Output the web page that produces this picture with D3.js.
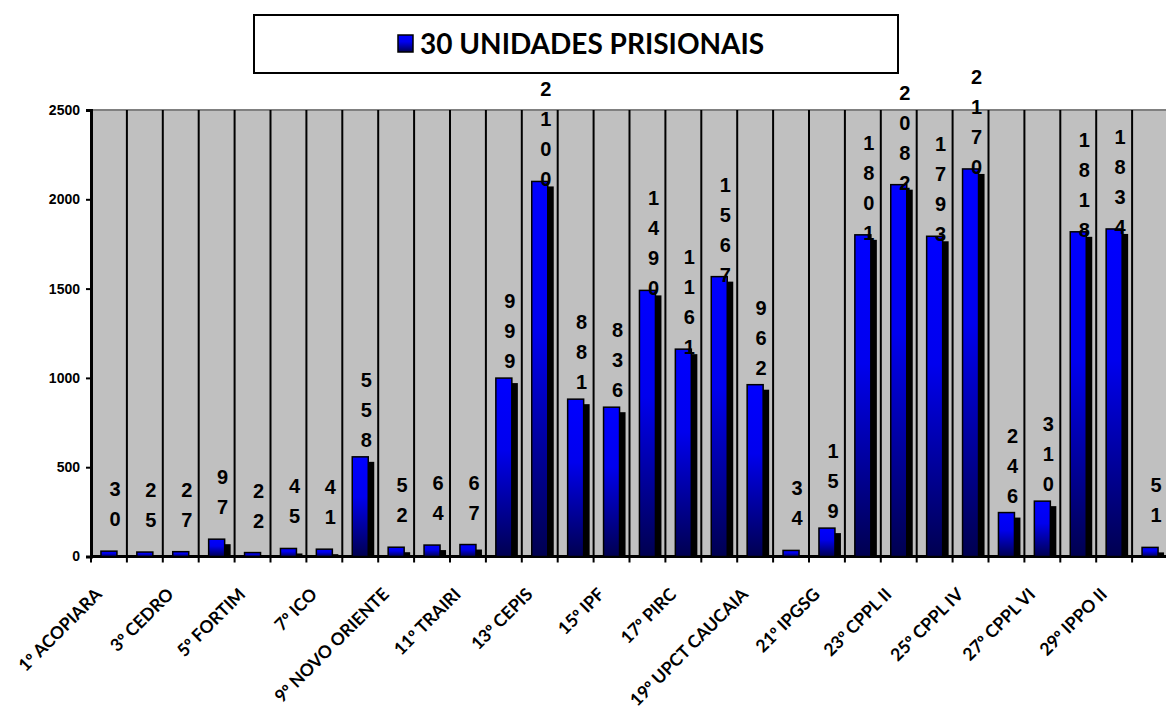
<!DOCTYPE html>
<html>
<head>
<meta charset="utf-8">
<script src="https://cdn.jsdelivr.net/npm/d3@7"></script>
<style>
  body { margin:0; background:#fff; }
  svg { display:block; }
</style>
</head>
<body>
<svg id="chart" width="1166" height="711"></svg>
<script>
var categories = ['1º','2º','3º','4º','5º','6º','7º','8º','9º','10º',
  '11º','12º','13º','14º','15º','16º','17º','18º','19º','20º',
  '21º','22º','23º','24º','25º','26º','27º','28º','29º','30º'];
var presos = [30, 25, 27, 97, 22, 45, 41, 558, 52, 64,
  67, 999, 2100, 881, 836, 1490, 1161, 1567, 962, 34,
  159, 1801, 2082, 1793, 2170, 246, 310, 1818, 1834, 51];
// only every second category gets a label on the axis
var tickLabels = ['1º ACOPIARA','3º CEDRO','5º FORTIM','7º ICO','9º NOVO ORIENTE',
  '11º TRAIRI','13º CEPIS','15º IPF','17º PIRC','19º UPCT CAUCAIA',
  '21º IPGSG','23º CPPL II','25º CPPL IV','27º CPPL VI','29º IPPO II'];
var yTicks = [0, 500, 1000, 1500, 2000, 2500];
var serieName = '30 UNIDADES PRISIONAIS';

var svg = d3.select('#chart');
var plotL = 91, plotR = 1168, plotT = 110, plotB = 556.5;

var x = d3.scaleBand().domain(categories).range([plotL, plotR]).padding(0);
var y = d3.scaleLinear().domain([0, 2500]).range([plotB, plotT]);

var defs = svg.append('defs');
var grad = defs.append('linearGradient').attr('id','barGrad')
  .attr('x1',0).attr('y1',0).attr('x2',0).attr('y2',1);
grad.append('stop').attr('offset','0').attr('stop-color','#0000ff');
grad.append('stop').attr('offset','0.4').attr('stop-color','#0000ee');
grad.append('stop').attr('offset','1').attr('stop-color','#000050');

// plot area
svg.append('rect')
  .attr('x', plotL).attr('y', plotT)
  .attr('width', plotR - plotL).attr('height', plotB - plotT)
  .attr('fill', '#c0c0c0');
svg.append('line')
  .attr('x1', plotL).attr('x2', plotR).attr('y1', plotT).attr('y2', plotT)
  .attr('stroke', '#808080').attr('stroke-width', 2);

// vertical lines between categories
svg.append('g').selectAll('line')
  .data(categories.slice(1))
  .enter().append('line')
  .attr('x1', function(d){ return x(d); })
  .attr('x2', function(d){ return x(d); })
  .attr('y1', plotT).attr('y2', plotB + 6)
  .attr('stroke', '#000').attr('stroke-width', 2);

// axes
var yAxis = d3.axisLeft(y).tickValues(yTicks).tickFormat(d3.format('d'))
  .tickSize(5).tickPadding(6);
var gy = svg.append('g').attr('transform','translate(' + plotL + ',0)').call(yAxis);
gy.select('.domain').attr('stroke','#000').attr('stroke-width',3);
gy.selectAll('.tick line').attr('stroke','#000').attr('stroke-width',2);
gy.selectAll('.tick text')
  .attr('font-family','Arial, "Liberation Sans", sans-serif')
  .attr('font-weight','bold').attr('font-size', 14).attr('fill','#000');

svg.append('line')
  .attr('x1', plotL - 1).attr('x2', plotR).attr('y1', plotB).attr('y2', plotB)
  .attr('stroke', '#000').attr('stroke-width', 3);
svg.append('line')
  .attr('x1', plotL).attr('x2', plotL).attr('y1', plotB).attr('y2', plotB + 6)
  .attr('stroke', '#000').attr('stroke-width', 2);

var bw = 16, offX = 6, offY = 5;

var bars = svg.append('g').selectAll('g.bar')
  .data(presos)
  .enter().append('g').attr('class','bar');

bars.append('rect')
  .attr('x', function(d,i){ return x(categories[i]) + (x.bandwidth() - bw)/2 + offX; })
  .attr('y', function(d){ return Math.min(y(d) + offY, plotB); })
  .attr('width', bw)
  .attr('height', function(d){ return Math.max(0, plotB - y(d) - offY); })
  .attr('fill', '#000');

bars.append('rect')
  .attr('x', function(d,i){ return x(categories[i]) + (x.bandwidth() - bw)/2; })
  .attr('y', function(d){ return y(d); })
  .attr('width', bw)
  .attr('height', function(d){ return plotB - y(d); })
  .attr('fill', 'url(#barGrad)')
  .attr('stroke', '#000').attr('stroke-width', 1.5);

// data labels, one digit per line
var lineH = 30;
svg.append('g').selectAll('text')
  .data(presos)
  .enter().append('text')
  .attr('font-family','Arial, "Liberation Sans", sans-serif')
  .attr('font-weight','bold').attr('font-size', 20)
  .attr('text-anchor','middle').attr('fill','#000')
  .each(function(d,i){
    var digits = String(d).split('');
    var cx = x(categories[i]) + x.bandwidth()/2 + 6;
    var center = y(d) - 47;
    var first = center - (digits.length - 1) * lineH / 2 + 7;
    d3.select(this).selectAll('tspan')
      .data(digits).enter().append('tspan')
      .attr('x', cx)
      .attr('y', function(c, k){ return first + k * lineH; })
      .text(function(c){ return c; });
  });

// category labels (º drawn in Liberation Sans so it keeps its underline)
svg.append('g').selectAll('text')
  .data(tickLabels)
  .enter().append('text')
  .attr('transform', function(d,i){
    var cx = x(categories[i*2]) + x.bandwidth()/2;
    return 'translate(' + (cx - 6) + ',' + (plotB + 39) + ') rotate(-45)';
  })
  .attr('text-anchor','end')
  .attr('font-family','Lato, "Open Sans", sans-serif')
  .attr('font-weight','bold').attr('font-size', 17.5)
  .attr('fill','#000')
  .each(function(d){
    var parts = d.split('º');
    var t = d3.select(this);
    t.append('tspan').text(parts[0]);
    t.append('tspan').attr('font-family','"Liberation Sans", Arial, sans-serif').text('º');
    t.append('tspan').text(parts[1]);
  });

// legend
var leg = svg.append('g');
leg.append('rect')
  .attr('x', 254).attr('y', 15).attr('width', 644).attr('height', 58)
  .attr('fill','#fff').attr('stroke','#000').attr('stroke-width', 2);
leg.append('rect')
  .attr('x', 398).attr('y', 35).attr('width', 15).attr('height', 17)
  .attr('fill','url(#barGrad)').attr('stroke','#000').attr('stroke-width', 1.5);
leg.append('text')
  .attr('x', 420).attr('y', 54)
  .attr('font-family','Lato, "Open Sans", sans-serif')
  .attr('font-weight','bold').attr('font-size', 28)
  .attr('fill','#000')
  .text(serieName);
</script>
</body>
</html>
